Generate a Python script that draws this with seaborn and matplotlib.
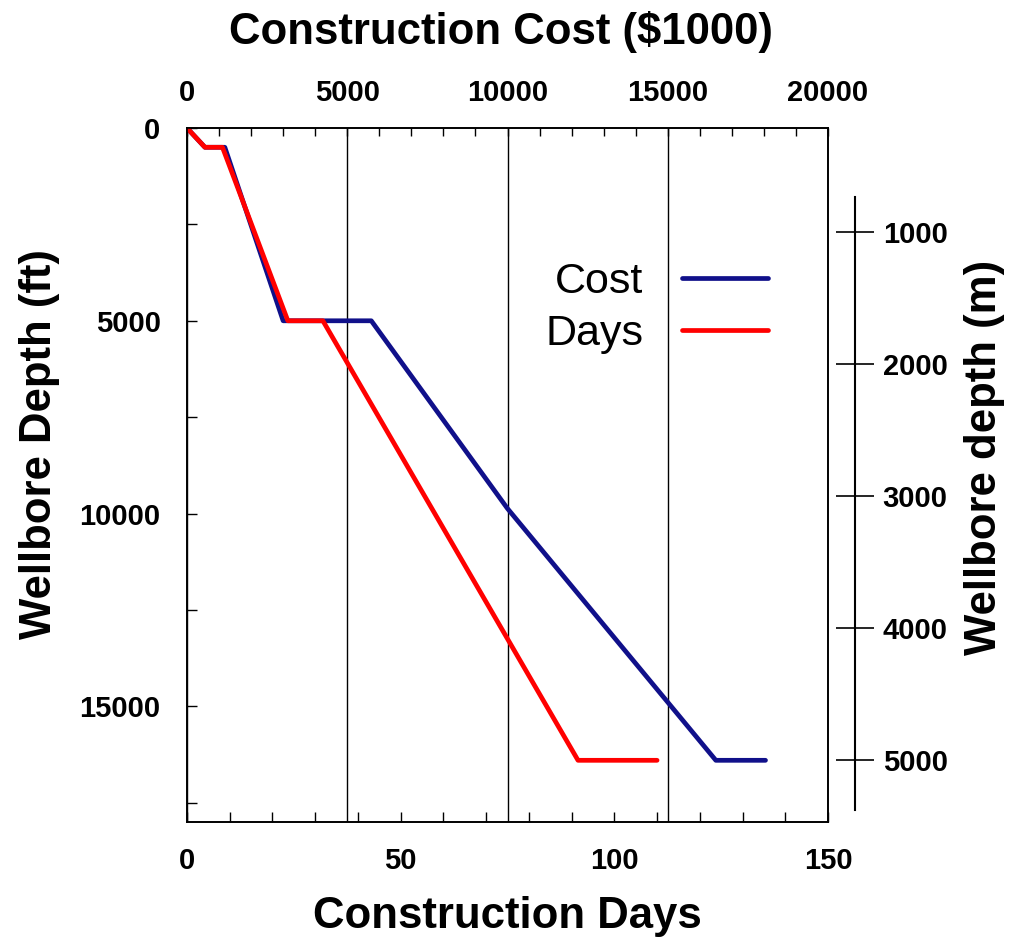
import matplotlib
matplotlib.use("Agg")
import matplotlib.pyplot as plt
import seaborn as sns
import pandas as pd
from matplotlib.ticker import MultipleLocator

# Days curve (bottom axis)
days = [0, 4.2, 8.3, 23.6, 31.8, 91.5, 110]
days_depth = [0, 500, 500, 5000, 5000, 16400, 16400]

# Cost curve (top axis, $1000)
cost = [0, 560, 1180, 3000, 5750, 10000, 16500, 18050]
cost_depth = [0, 500, 500, 5000, 5000, 9870, 16400, 16400]

depth_m_ticks = [1000, 2000, 3000, 4000, 5000]

BLUE = "#10108a"
RED = "#ff0000"


def main():
    sns.set_style("white")
    plt.rcParams["font.family"] = ["Liberation Sans", "DejaVu Sans"]
    plt.rcParams["text.color"] = "black"
    plt.rcParams["axes.labelcolor"] = "black"
    plt.rcParams["xtick.color"] = "black"
    plt.rcParams["ytick.color"] = "black"

    fig = plt.figure(figsize=(10.18, 9.39), dpi=100)
    # main axes holds the cost curve, with the cost scale on top
    ax = fig.add_axes([187 / 1018, 1 - 822 / 939, 641 / 1018, 694 / 939])
    ax_days = ax.twiny()

    df_cost = pd.DataFrame({"x": cost, "depth": cost_depth})
    df_days = pd.DataFrame({"x": days, "depth": days_depth})

    sns.lineplot(data=df_cost, x="x", y="depth", sort=False, ax=ax,
                 color=BLUE, lw=3.4, label="Cost", legend=False)
    sns.lineplot(data=df_days, x="x", y="depth", sort=False, ax=ax_days,
                 color=RED, lw=3.4, label="Days", legend=False)

    ax.set_ylim(18000, 0)

    # cost axis on top
    ax.xaxis.tick_top()
    ax.xaxis.set_label_position("top")
    ax.set_xlim(0, 20000)
    ax.xaxis.set_major_locator(MultipleLocator(5000))
    ax.xaxis.set_minor_locator(MultipleLocator(1000))
    ax.set_xlabel("Construction Cost ($1000)", fontsize=31.5, fontweight="bold",
                  labelpad=25)
    ax.xaxis.label.set_x(0.49)
    ax.xaxis.grid(True, which="major", color="black", lw=1.0)

    # days axis on bottom
    ax_days.xaxis.tick_bottom()
    ax_days.xaxis.set_label_position("bottom")
    ax_days.set_xlim(0, 150)
    ax_days.xaxis.set_major_locator(MultipleLocator(50))
    ax_days.xaxis.set_minor_locator(MultipleLocator(10))
    ax_days.set_xlabel("Construction Days", fontsize=31.5, fontweight="bold",
                       labelpad=15)

    ax.yaxis.set_major_locator(MultipleLocator(5000))
    ax.yaxis.set_minor_locator(MultipleLocator(2500))
    ax.set_ylabel("Wellbore Depth (ft)", fontsize=31.5, fontweight="bold",
                  labelpad=14)
    ax.yaxis.label.set_y(0.545)

    for a in (ax, ax_days):
        for s in a.spines.values():
            s.set_color("black")
            s.set_linewidth(1.2)

    ax.tick_params(axis="x", which="both", direction="in", length=6, width=1,
                   top=True, bottom=False, labeltop=True, labelbottom=False,
                   pad=15)
    ax.tick_params(axis="y", which="both", direction="in", length=7, width=1,
                   pad=19, right=False)
    ax_days.tick_params(axis="x", which="both", direction="in", length=7,
                        width=1, top=False, bottom=True, labelbottom=True,
                        labeltop=False, pad=18)
    for lab in ax.get_xticklabels() + ax.get_yticklabels() + ax_days.get_xticklabels():
        lab.set_fontsize(21)
        lab.set_fontweight("bold")

    # separate metric depth scale on the right
    ax_m = ax.twinx()
    ax_m.set_ylim(5470, 212)
    for side in ("top", "bottom", "left"):
        ax_m.spines[side].set_visible(False)
    ax_m.spines["right"].set_position(("axes", 1.042))
    ax_m.spines["right"].set_bounds(735, 5380)
    ax_m.spines["right"].set_color("black")
    ax_m.spines["right"].set_linewidth(1.5)
    ax_m.set_yticks(depth_m_ticks)
    ax_m.tick_params(axis="y", direction="inout", length=28, width=1.2,
                     pad=6)
    for lab in ax_m.get_yticklabels():
        lab.set_fontsize(21)
        lab.set_fontweight("bold")
    ax_m.set_ylabel("Wellbore depth (m)", fontsize=31.5, fontweight="bold",
                    labelpad=12)
    ax_m.yaxis.label.set_y(0.525)

    handles = ax.get_lines()[:1] + ax_days.get_lines()[:1]
    ax_days.legend(handles, ["Cost", "Days"], loc="center",
                   bbox_to_anchor=(0.733, 0.74), frameon=False,
                   markerfirst=False, fontsize=31, handlelength=2.0,
                   handletextpad=0.9, labelspacing=0.28)

    fig.savefig("out.png", dpi=100)


if __name__ == "__main__":
    main()
